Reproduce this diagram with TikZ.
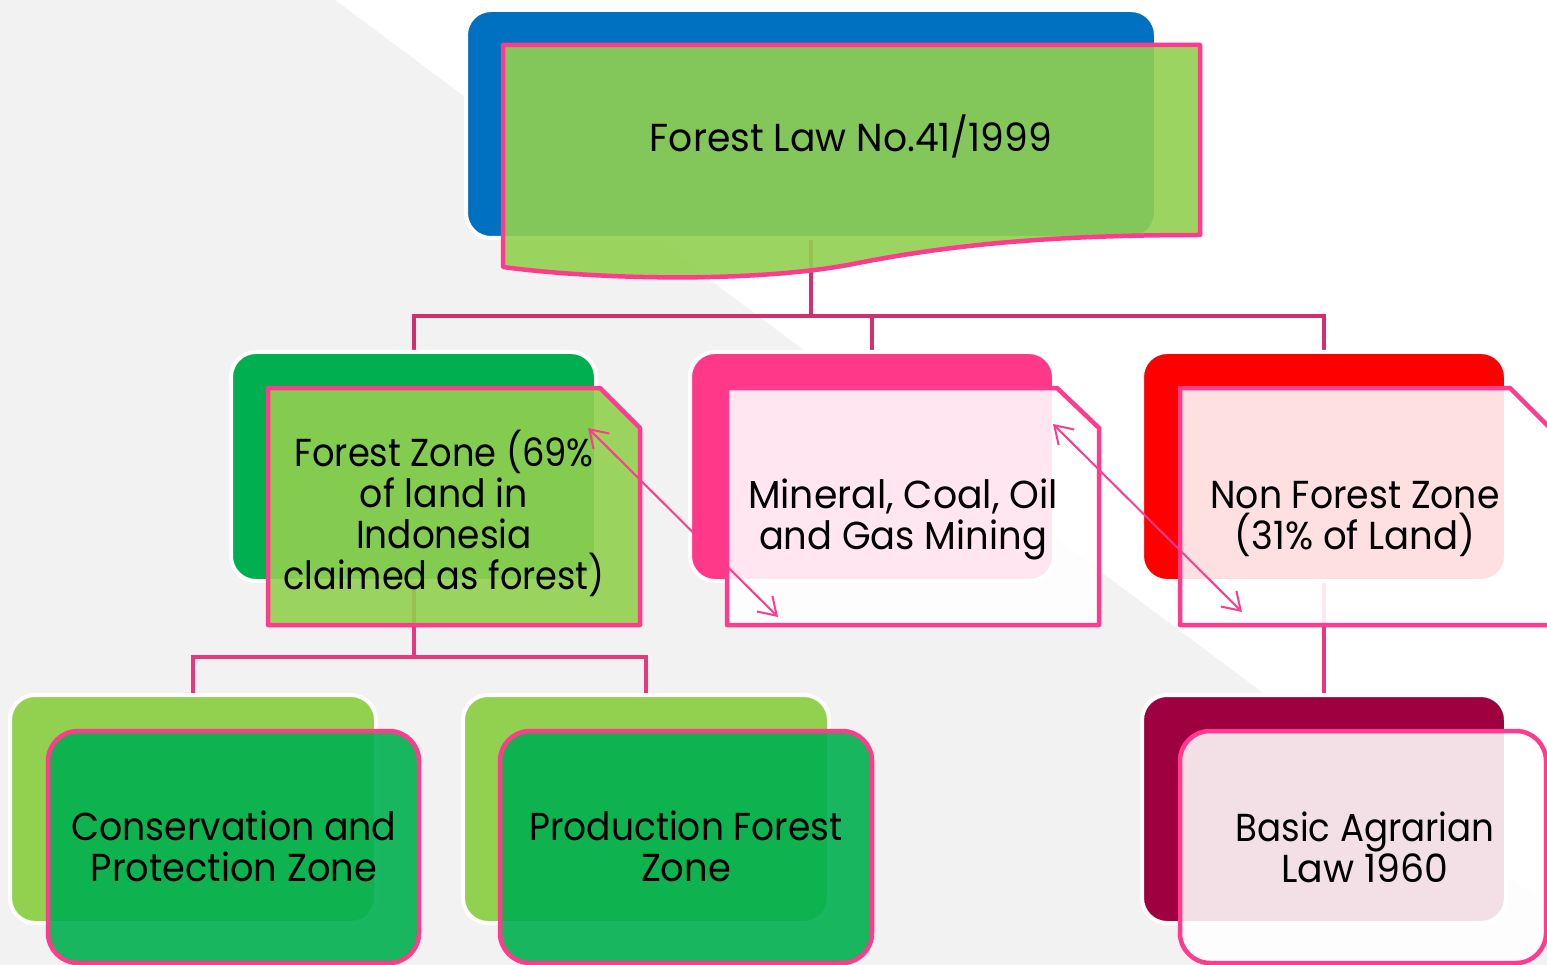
\documentclass[tikz,border=0pt]{standalone}
\usepackage{fontspec}
\setmainfont{Poppins}
\usetikzlibrary{arrows.meta}
\pgfdeclarelayer{bglayer}
\pgfdeclarelayer{connlayer}
\pgfsetlayers{bglayer,connlayer,main}
\definecolor{bggray}{HTML}{F2F2F2}
\definecolor{blueA}{HTML}{0070C0}
\definecolor{pinkL}{HTML}{FF3B8D}
\definecolor{connA}{HTML}{D02F70}
\definecolor{connB}{HTML}{E8367F}
\definecolor{limeA}{HTML}{92D050}
\definecolor{greenA}{HTML}{00B050}
\definecolor{pinkB}{HTML}{FF388A}
\definecolor{redA}{HTML}{FF0000}
\definecolor{wineA}{HTML}{9E0040}
\newcommand\fw[2]{\resizebox{#1pt}{\height}{#2}}
\newcommand\mlines[1]{\vtop{\baselineskip=41pt\lineskiplimit=-100pt\lineskip=0pt\halign{\hfil##\hfil\cr#1\crcr}}}
\begin{document}
\begin{tikzpicture}[x=1pt, y=-1pt, line join=round,
  back/.style={rectangle, rounded corners=25pt, draw=white, line width=4pt, inner sep=0pt, outer sep=0pt},
  front/.style={draw=pinkL, line width=4.5pt},
  frontbox/.style={rectangle, rounded corners=30pt, draw=pinkL, line width=4.5pt, inner sep=0pt, outer sep=0pt},
  conn/.style={draw=connA, line width=4pt},
  conn2/.style={draw=connB, line width=4pt},
  lbl/.style={anchor=base, inner sep=0pt, outer sep=0pt, text=black, font=\fontsize{39}{41}\selectfont},
  dbl/.style={draw=pinkL, line width=2pt, arrows={Straight Barb[length=17pt,width=22pt]-Straight Barb[length=17pt,width=22pt]}}
]
\useasboundingbox (0,0) rectangle (1547,965);
\clip (0,0) rectangle (1547,965);
% background
\begin{pgfonlayer}{bglayer}
\fill[white] (0,0) rectangle (1547,965);
\fill[bggray] (0,0) -- (335,0) -- (1547,905) -- (1547,965) -- (0,965) -- cycle;
\end{pgfonlayer}

% back boxes
\node[back, fill=blueA, minimum width=690pt, minimum height=228pt] (topback) at (811,124) {};
\node[back, fill=greenA, minimum width=365pt, minimum height=229pt] (fzback) at (413.5,466.5) {};
\node[back, fill=pinkB, minimum width=364pt, minimum height=229pt] (mnback) at (872,466.5) {};
\node[back, fill=redA, minimum width=364pt, minimum height=229pt] (nfback) at (1324,466.5) {};
\node[back, fill=limeA, minimum width=366pt, minimum height=228pt] (cpback) at (193,809) {};
\node[back, fill=limeA, minimum width=366pt, minimum height=228pt] (pfback) at (646,809) {};
\node[back, fill=wineA, minimum width=364pt, minimum height=228pt] (baback) at (1324,809) {};

% connectors (drawn beneath the boxes)
\begin{pgfonlayer}{connlayer}
\draw[conn] (topback.south) -- ++(0,78) coordinate (j1);
\draw[conn] (fzback.north) |- (j1) -| (nfback.north);
\draw[conn] (mnback.north) -- (mnback.north |- j1);
\draw[conn2] (fzback.south) -- ++(0,76) coordinate (j2);
\draw[conn2] (cpback.north) |- (j2) -| (pfback.north);
\draw[conn2] (nfback.south) -- (baback.north);
\end{pgfonlayer}

% front shapes
\draw[front, fill=limeA, fill opacity=0.9] (503,45) -- (1200,45) -- (1200,235)
  .. controls (1050,235) and (950,245) .. (858,263)
  .. controls (760,283) and (600,280) .. (503,267) -- cycle;
\draw[front, fill=limeA, fill opacity=0.9] (268,388) -- (600,388) -- (640,428) -- (640,625) -- (268,625) -- cycle;
\draw[front, fill=white, fill opacity=0.88] (727,388) -- (1057,388) -- (1099,428) -- (1099,625) -- (727,625) -- cycle;
\draw[front, fill=white, fill opacity=0.88] (1180,388) -- (1510,388) -- (1552,430) -- (1552,625) -- (1180,625) -- cycle;
\node[frontbox, fill=greenA, fill opacity=0.9, minimum width=371pt, minimum height=232pt] (cpfront) at (233.5,847) {};
\node[frontbox, fill=greenA, fill opacity=0.9, minimum width=372pt, minimum height=232pt] (pffront) at (686,847) {};
\node[frontbox, fill=white, fill opacity=0.88, minimum width=366pt, minimum height=232pt] (bafront) at (1363,847) {};

% texts
\node[lbl] (tFL) at (851,152) {\mlines{\fw{402}{Forest Law No.41/1999}}};
\node[lbl] (tFZ) at (444,466) {\mlines{\fw{299}{Forest Zone (69\%}\cr\fw{168}{of land in}\cr\fw{176}{Indonesia}\cr\fw{321}{claimed as forest)}}};
\node[lbl] (tMN) at (903,508) {\mlines{\fw{310}{Mineral, Coal, Oil}\cr\fw{288}{and Gas Mining}}};
\node[lbl] (tNF) at (1355,508) {\mlines{\fw{289}{Non Forest Zone}\cr\fw{241}{(31\% of Land)}}};
\node[lbl] (tCP) at (234,840) {\mlines{\fw{325}{Conservation and}\cr\fw{286}{Protection Zone}}};
\node[lbl] (tPF) at (686,840) {\mlines{\fw{313}{Production Forest}\cr\fw{90}{Zone}}};
\node[lbl] (tBA) at (1365,841) {\mlines{\fw{259}{Basic Agrarian}\cr\fw{167}{Law 1960}}};

% double arrows
\coordinate (a1s) at (588,428);
\coordinate (a1e) at (778,617);
\coordinate (a2s) at (1053,424);
\coordinate (a2e) at (1242,612);
\draw[dbl] (a1s) -- (a1e);
\draw[dbl] (a2s) -- (a2e);
\end{tikzpicture}
\end{document}
